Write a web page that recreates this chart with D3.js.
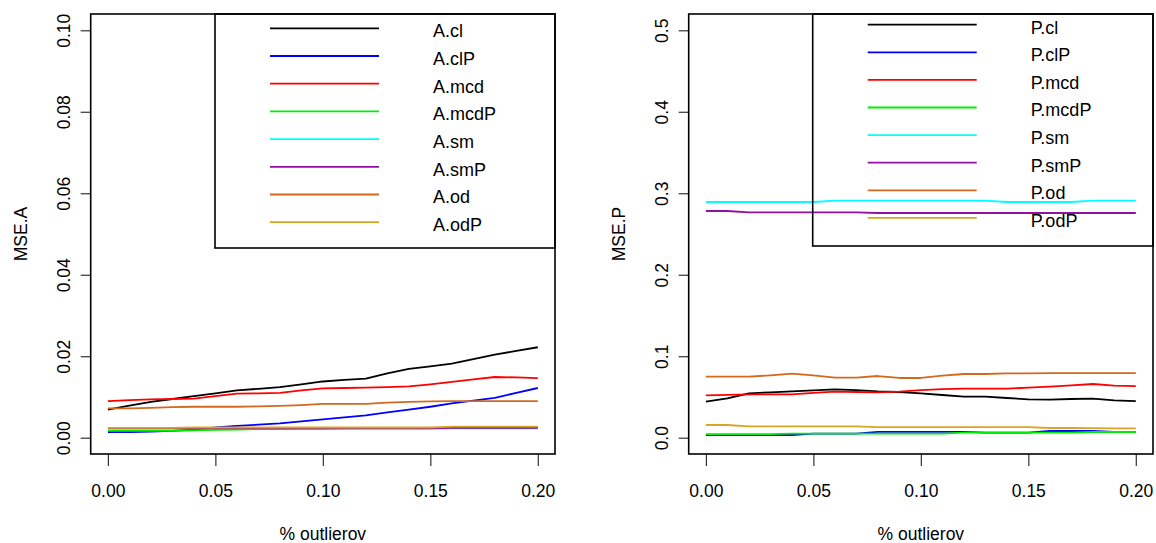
<!DOCTYPE html>
<html><head><meta charset="utf-8">
<script src="https://cdn.jsdelivr.net/npm/d3@7"></script>
<style>
html,body{margin:0;padding:0;background:#fff;}
svg text{font-family:"Liberation Sans",Arial,sans-serif;fill:#000;}
</style></head>
<body><svg id="c" width="1156" height="543"></svg>
<script>
// ---- data ----
const xs = [0.00,0.01,0.02,0.03,0.04,0.05,0.06,0.07,0.08,0.09,0.10,0.11,0.12,0.13,0.14,0.15,0.16,0.17,0.18,0.19,0.20];
const xTicks = [0.00,0.05,0.10,0.15,0.20];
const xTickLabels = ["0.00","0.05","0.10","0.15","0.20"];

const seriesNamesA = ["A.cl","A.clP","A.mcd","A.mcdP","A.sm","A.smP","A.od","A.odP"];
const seriesNamesP = ["P.cl","P.clP","P.mcd","P.mcdP","P.sm","P.smP","P.od","P.odP"];
const seriesColors = ["#000000","#0000FF","#FF0000","#00EE00","#00FFFF","#9010A0","#D2691E","#DAA520"];

const A_cl   = [0.0069,0.0079,0.0088,0.0095,0.0102,0.0109,0.0116,0.0120,0.0124,0.0131,0.0138,0.0142,0.0145,0.0158,0.0169,0.0175,0.0182,0.0193,0.0204,0.0213,0.0222];
const A_clP  = [0.0014,0.0014,0.0015,0.0017,0.0020,0.0025,0.0029,0.0032,0.0035,0.0040,0.0045,0.0050,0.0055,0.0062,0.0069,0.0076,0.0084,0.0091,0.0098,0.0110,0.0122];
const A_mcd  = [0.0090,0.0092,0.0094,0.0095,0.0096,0.0102,0.0108,0.0109,0.0110,0.0116,0.0121,0.0122,0.0123,0.0124,0.0126,0.0131,0.0137,0.0143,0.0149,0.0148,0.0146];
const A_mcdP = [0.0017,0.0017,0.0017,0.0017,0.0018,0.0019,0.0020,0.0021,0.0021,0.0022,0.0022,0.0023,0.0023,0.0023,0.0023,0.0023,0.0023,0.0023,0.0023,0.0023,0.0023];
const A_sm   = [0.0023,0.0023,0.0023,0.0023,0.0023,0.0023,0.0023,0.0023,0.0023,0.0023,0.0023,0.0023,0.0023,0.0023,0.0023,0.0023,0.0024,0.0024,0.0024,0.0024,0.0024];
const A_smP  = [0.0023,0.0023,0.0023,0.0023,0.0023,0.0023,0.0023,0.0023,0.0023,0.0023,0.0023,0.0023,0.0023,0.0023,0.0023,0.0023,0.0024,0.0024,0.0024,0.0024,0.0024];
const A_od   = [0.0072,0.0072,0.0073,0.0075,0.0076,0.0076,0.0076,0.0077,0.0078,0.0080,0.0083,0.0083,0.0083,0.0086,0.0088,0.0089,0.0090,0.0090,0.0090,0.0090,0.0090];
const A_odP  = [0.0024,0.0024,0.0024,0.0024,0.0025,0.0025,0.0025,0.0025,0.0025,0.0025,0.0025,0.0025,0.0025,0.0025,0.0025,0.0025,0.0027,0.0027,0.0027,0.0027,0.0027];

const P_cl   = [0.0442,0.0483,0.0545,0.0557,0.0569,0.0581,0.0594,0.0585,0.0569,0.0561,0.0545,0.0524,0.0504,0.0504,0.0487,0.0471,0.0467,0.0475,0.0479,0.0459,0.0450];
const P_clP  = [0.0033,0.0033,0.0033,0.0033,0.0033,0.0049,0.0049,0.0049,0.0072,0.0072,0.0072,0.0072,0.0072,0.0062,0.0062,0.0062,0.0082,0.0082,0.0082,0.0070,0.0070];
const P_mcd  = [0.0520,0.0526,0.0532,0.0532,0.0532,0.0549,0.0565,0.0561,0.0557,0.0565,0.0585,0.0595,0.0602,0.0602,0.0602,0.0614,0.0626,0.0643,0.0659,0.0639,0.0634];
const P_mcdP = [0.0045,0.0045,0.0045,0.0045,0.0049,0.0049,0.0049,0.0049,0.0049,0.0049,0.0049,0.0049,0.0062,0.0062,0.0062,0.0062,0.0062,0.0062,0.0070,0.0070,0.0070];
const P_sm   = [0.2893,0.2893,0.2893,0.2893,0.2893,0.2893,0.2909,0.2909,0.2909,0.2909,0.2909,0.2909,0.2909,0.2909,0.2893,0.2893,0.2893,0.2893,0.2909,0.2909,0.2909];
const P_smP  = [0.2782,0.2782,0.2766,0.2766,0.2766,0.2766,0.2766,0.2766,0.2758,0.2758,0.2758,0.2758,0.2758,0.2758,0.2758,0.2758,0.2758,0.2758,0.2758,0.2758,0.2758];
const P_od   = [0.0749,0.0749,0.0749,0.0765,0.0786,0.0765,0.0737,0.0737,0.0757,0.0733,0.0733,0.0761,0.0782,0.0782,0.0790,0.0790,0.0792,0.0792,0.0792,0.0792,0.0792];
const P_odP  = [0.0156,0.0156,0.0140,0.0140,0.0140,0.0140,0.0140,0.0140,0.0131,0.0131,0.0131,0.0131,0.0131,0.0131,0.0131,0.0131,0.0119,0.0119,0.0117,0.0115,0.0115];

const yTicksA = [0.00,0.02,0.04,0.06,0.08,0.10];
const yTickLabelsA = ["0.00","0.02","0.04","0.06","0.08","0.10"];
const yTicksP = [0.0,0.1,0.2,0.3,0.4,0.5];
const yTickLabelsP = ["0.0","0.1","0.2","0.3","0.4","0.5"];

// ---- layout ----
const svg = d3.select("#c");
const FS = 17.5;

const panels = [
  {left:90.7, right:555, top:14, bottom:454, ymax:0.10, yTicks:yTicksA, yLabels:yTickLabelsA,
   ytitle:"MSE.A", names:seriesNamesA, data:[A_cl,A_clP,A_mcd,A_mcdP,A_sm,A_smP,A_od,A_odP],
   leg:{x0:215, y1:248, first:28.3, step:27.7}},
  {left:688.7, right:1153, top:14, bottom:454, ymax:0.5, yTicks:yTicksP, yLabels:yTickLabelsP,
   ytitle:"MSE.P", names:seriesNamesP, data:[P_cl,P_clP,P_mcd,P_mcdP,P_sm,P_smP,P_od,P_odP],
   leg:{x0:812.7, y1:246, first:24.7, step:27.6}}
];

panels.forEach(p => {
  const xr = 0.20 - 0.00;
  const x = d3.scaleLinear().domain([0 - 0.04*xr, 0.20 + 0.04*xr]).range([p.left, p.right]);
  const y = d3.scaleLinear().domain([0 - 0.04*p.ymax, p.ymax*1.04]).range([p.bottom, p.top]);
  const g = svg.append("g");

  // lines
  const line = d3.line().x((d,i)=>x(xs[i])).y(d=>y(d));
  p.data.forEach((arr,k) => {
    g.append("path").attr("d", line(arr)).attr("fill","none")
      .attr("stroke", seriesColors[k]).attr("stroke-width",1.8)
      .attr("stroke-linejoin","round");
  });

  // x axis
  const xAxis = d3.axisBottom(x).tickValues(xTicks).tickFormat((d,i)=>xTickLabels[i]).tickSize(12).tickSizeOuter(0);
  const ga = g.append("g").attr("transform",`translate(0,${p.bottom})`).call(xAxis);
  ga.select(".domain").attr("d", `M${x(xTicks[0])},0H${x(xTicks[xTicks.length-1])}`).attr("stroke","none");
  ga.selectAll(".tick line").attr("stroke","#333").attr("stroke-width",1.2);
  ga.selectAll(".tick text").attr("y",null).attr("dy",null)
    .attr("transform",null).attr("y", 497 - p.bottom).style("font-size",FS+"px")
    .style("font-family","'Liberation Sans',Arial,sans-serif").attr("fill","#000");

  // y axis
  const yAxis = d3.axisLeft(y).tickValues(p.yTicks).tickFormat((d,i)=>p.yLabels[i]).tickSize(10).tickSizeOuter(0);
  const gy = g.append("g").attr("transform",`translate(${p.left},0)`).call(yAxis);
  gy.select(".domain").attr("stroke","none");
  gy.selectAll(".tick line").attr("stroke","#333").attr("stroke-width",1.2);
  gy.selectAll(".tick text").attr("x",null).attr("dy",null)
    .attr("transform","translate(-20.7,0) rotate(-90)")
    .attr("text-anchor","middle").attr("x",0).attr("y",0)
    .style("font-size",FS+"px").style("font-family","'Liberation Sans',Arial,sans-serif").attr("fill","#000");

  // box
  g.append("rect").attr("x",p.left).attr("y",p.top).attr("width",p.right-p.left).attr("height",p.bottom-p.top)
    .attr("fill","none").attr("stroke","#000").attr("stroke-width",1.6);

  // titles
  g.append("text").attr("x",(x(0)+x(0.2))/2).attr("y",540).attr("text-anchor","middle")
    .style("font-size",FS+"px").text("% outlierov");
  g.append("text").attr("transform",`translate(${p.left-63.7},${(p.top+p.bottom)/2}) rotate(-90)`)
    .attr("text-anchor","middle").style("font-size",FS+"px").text(p.ytitle);

  // legend
  const L = p.leg;
  g.append("rect").attr("x",L.x0).attr("y",p.top).attr("width",p.right-L.x0).attr("height",L.y1-p.top)
    .attr("fill","none").attr("stroke","#000").attr("stroke-width",1.6);
  p.names.forEach((nm,k) => {
    const yy = L.first + k*L.step;
    g.append("line").attr("x1",L.x0+55).attr("x2",L.x0+164).attr("y1",yy).attr("y2",yy)
      .attr("stroke",seriesColors[k]).attr("stroke-width",1.8);
    g.append("text").attr("x",L.x0+218).attr("y",yy+8.8).style("font-size","18px").text(nm);
  });
});
</script></body></html>
